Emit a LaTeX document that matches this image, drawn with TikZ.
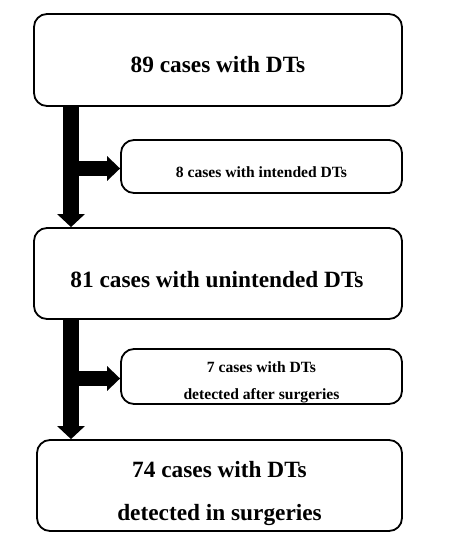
\documentclass[tikz,border=0pt]{standalone}
\usepackage{fontspec}
\setmainfont{Liberation Serif}
\usetikzlibrary{arrows.meta}
\begin{document}
\begin{tikzpicture}[x=1pt,y=-1pt,
  box/.style={draw=black, line width=1.8pt, rounded corners=13pt, fill=white, inner sep=0pt},
  bigtxt/.style={anchor=base, inner sep=0pt, font=\bfseries\fontsize{23.3}{27}\selectfont},
  smalltxt/.style={anchor=base, inner sep=0pt, font=\bfseries\fontsize{15.6}{19}\selectfont},
  mainarrow/.style={line width=16pt, -{Triangle[width=27pt,length=13pt]}},
  sidearrow/.style={line width=15pt, -{Triangle[width=24pt,length=13pt]}}]
\useasboundingbox (0,0) rectangle (464,546);
\node[box, minimum width=368pt, minimum height=92pt] (b1) at (218,60) {};
\node[box, minimum width=281pt, minimum height=53pt] (b2) at (261.5,166.5) {};
\node[box, minimum width=368pt, minimum height=91pt] (b3) at (218,273.5) {};
\node[box, minimum width=281pt, minimum height=55pt] (b4) at (261.5,376.5) {};
\node[box, minimum width=365pt, minimum height=91pt] (b5) at (219.5,485.5) {};
\node[bigtxt] (t1) at (218,72) {89 cases with DTs};
\node[smalltxt] (t2) at (261.5,177) {8 cases with intended DTs};
\node[bigtxt] (t3) at (217,287) {81 cases with unintended DTs};
\node[smalltxt] (t4a) at (261.5,372) {7 cases with DTs};
\node[smalltxt] (t4b) at (261.5,399) {detected after surgeries};
\node[bigtxt] (t5a) at (219.5,477) {74 cases with DTs};
\node[bigtxt] (t5b) at (219.5,520) {detected in surgeries};
\coordinate (s1) at (71,168.5);
\coordinate (s2) at (71,378.5);
\draw[mainarrow] (b1.south -| s1) -- (b3.north -| s1);
\draw[sidearrow] (s1) -- (s1 -| b2.west);
\draw[mainarrow] (b3.south -| s2) -- (b5.north -| s2);
\draw[sidearrow] (s2) -- (s2 -| b4.west);
\end{tikzpicture}
\end{document}
